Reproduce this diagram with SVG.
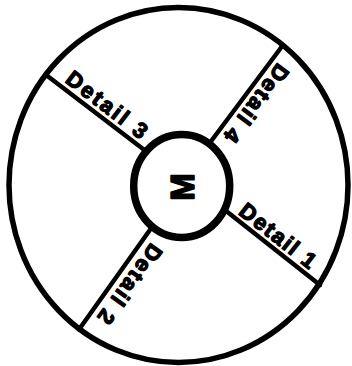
<svg xmlns="http://www.w3.org/2000/svg" width="352" height="366" viewBox="0 0 352 366">
<style>
.ring{fill:none;stroke:#000;stroke-width:5.5}
.hub{fill:#fff;stroke:#000;stroke-width:7.5}
.conn line{stroke:#000;stroke-width:4.5;stroke-linecap:round}
.lbl{font-family:"Liberation Sans",Arial,sans-serif;font-weight:bold;font-size:22px;fill:#000;stroke:#000;stroke-width:1.3;stroke-linejoin:round}
.m{font-family:"Liberation Sans",Arial,sans-serif;font-weight:bold;font-size:33px;fill:#000;stroke:#000;stroke-width:1.5;stroke-linejoin:round}
</style>
<rect width="352" height="366" fill="#fff"/>
<g id="outer"><ellipse class="ring" cx="178.5" cy="185" rx="169.5" ry="177.5"/></g>
<g id="connectors" class="conn">
<line x1="45.5" y1="74.5" x2="147" y2="152"/>
<line x1="283" y1="45" x2="209" y2="144"/>
<line x1="223" y1="208.5" x2="320" y2="285"/>
<line x1="152" y1="227" x2="79" y2="329.5"/>
</g>
<g id="hub"><ellipse class="hub" cx="181.7" cy="186" rx="48" ry="51.5"/>
<text class="m" transform="translate(182,187) rotate(-90)" x="0" y="11.8" text-anchor="middle">M</text></g>
<g id="detail1"><text class="lbl" transform="translate(234.4,217.4) rotate(38.2)" x="0" y="-5" textLength="91" lengthAdjust="spacing">Detail 1</text></g>
<g id="detail2"><text class="lbl" transform="translate(144.7,237.3) rotate(125.9)" x="0" y="-8" textLength="93" lengthAdjust="spacing">Detail 2</text></g>
<g id="detail3"><text class="lbl" transform="translate(61.1,85.5) rotate(37.4)" x="0" y="-5" textLength="96" lengthAdjust="spacing">Detail 3</text></g>
<g id="detail4"><text class="lbl" transform="translate(273.2,58.4) rotate(126.9)" x="0" y="-6" textLength="92" lengthAdjust="spacing">Detail 4</text></g>
</svg>
